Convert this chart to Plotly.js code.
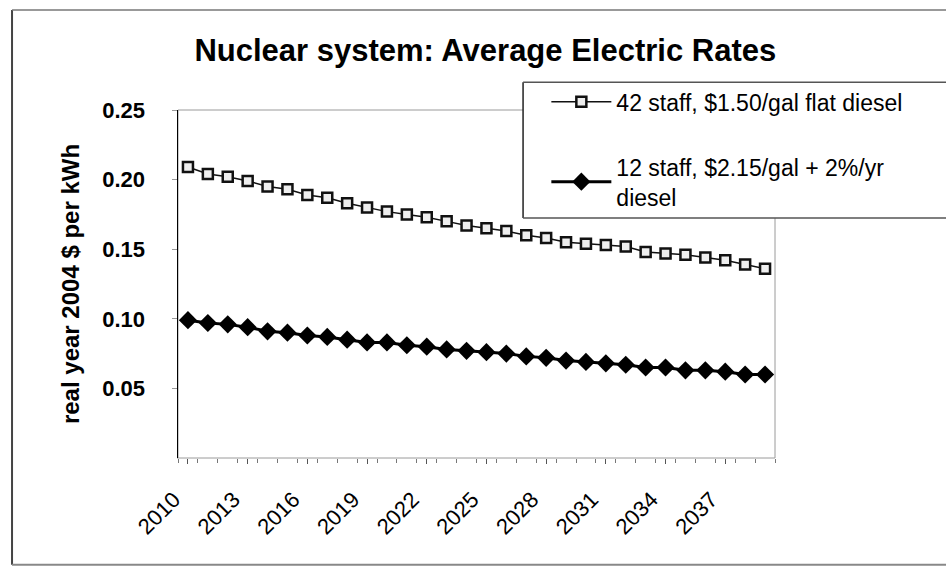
<!DOCTYPE html>
<html>
<head>
<meta charset="utf-8">
<script src="https://cdn.plot.ly/plotly-3.0.1.min.js"></script>
<style>
  html, body { margin: 0; padding: 0; background: #ffffff; overflow: hidden; }
  #chart { width: 946px; height: 568px; }
</style>
</head>
<body>
<div id="chart"></div>
<script>
// ---- data ----
const years = [2010, 2011, 2012, 2013, 2014, 2015, 2016, 2017, 2018, 2019,
               2020, 2021, 2022, 2023, 2024, 2025, 2026, 2027, 2028, 2029,
               2030, 2031, 2032, 2033, 2034, 2035, 2036, 2037, 2038, 2039];
const staff42Flat = [0.209, 0.204, 0.202, 0.199, 0.195, 0.193, 0.189, 0.187, 0.183, 0.180,
                     0.177, 0.175, 0.173, 0.170, 0.167, 0.165, 0.163, 0.160, 0.158, 0.155,
                     0.154, 0.153, 0.152, 0.148, 0.147, 0.146, 0.144, 0.142, 0.139, 0.136];
const staff12Escal = [0.099, 0.097, 0.096, 0.094, 0.091, 0.090, 0.088, 0.087, 0.085, 0.083,
                      0.083, 0.081, 0.080, 0.078, 0.077, 0.076, 0.075, 0.073, 0.072, 0.070,
                      0.069, 0.068, 0.067, 0.065, 0.065, 0.063, 0.063, 0.062, 0.060, 0.060];
const seriesNames = ["42 staff, $1.50/gal flat diesel",
                     "12 staff, $2.15/gal + 2%/yr<br>diesel"];
const yTickVals = [0.05, 0.10, 0.15, 0.20, 0.25];
const chartTitle = "Nuclear system: Average Electric Rates";
const yTitle = "real year 2004 $ per kWh";

const FONT = "Arial, 'Liberation Sans', Helvetica, sans-serif";

const traces = [
  {
    x: years, y: staff42Flat, name: seriesNames[0], type: "scatter", mode: "lines+markers",
    legendgroup: "a",
    line: { color: "#111111", width: 1.5 },
    marker: { symbol: "square", size: 10, color: "#eeeeee", line: { color: "#111111", width: 2.5 } }
  },
  {
    x: years, y: staff12Escal, name: seriesNames[1], type: "scatter", mode: "lines+markers",
    legendgroup: "b",
    line: { color: "#000000", width: 3 },
    marker: { symbol: "diamond", size: 14, color: "#000000", line: { color: "#000000", width: 0 } }
  }
];

function hline(y, x0, x1, color, w) {
  return { type: "line", xref: "paper", yref: "paper", x0: x0, x1: x1, y0: y, y1: y,
           line: { color: color, width: w }, layer: "above" };
}
function vline(x, y0, y1, color, w) {
  return { type: "line", xref: "paper", yref: "paper", x0: x, x1: x, y0: y0, y1: y1,
           line: { color: color, width: w }, layer: "above" };
}

const layout = {
  width: 946, height: 568,
  paper_bgcolor: "#ffffff", plot_bgcolor: "#ffffff",
  margin: { l: 178, r: 171, t: 110, b: 110 },
  font: { family: FONT, color: "#000000" },
  title: {
    text: "<b>" + chartTitle + "</b>",
    font: { family: FONT, size: 31, color: "#000000" },
    x: 0.513, xref: "container", xanchor: "center",
    y: 0.912, yref: "container", yanchor: "middle"
  },
  xaxis: {
    range: [2009.5, 2039.5],
    tickmode: "linear", tick0: 2010, dtick: 3,
    tickangle: -45,
    tickfont: { family: FONT, size: 22, color: "#000000" },
    ticks: "outside", ticklen: 5, tickcolor: "#555555", tickwidth: 1,
    ticklabelstandoff: 14,
    ticklabelshift: -14,
    minor: { dtick: 1, tick0: 2009.5, ticks: "outside", ticklen: 4, tickcolor: "#777777" },
    showgrid: false, zeroline: false,
    showline: true, linecolor: "#cccccc", linewidth: 1
  },
  yaxis: {
    range: [0, 0.25],
    tickvals: yTickVals,
    tickformat: ".2f",
    tickfont: { family: FONT, size: 22, color: "#000000", weight: "bold" },
    ticks: "outside", ticklen: 5, tickcolor: "#999999",
    ticklabelstandoff: 22,
    showgrid: false, zeroline: false,
    showline: true, linecolor: "#000000", linewidth: 1.5,
    title: {
      text: "<b>" + yTitle + "</b>",
      font: { family: FONT, size: 24, color: "#000000" },
      standoff: 16
    }
  },
  showlegend: true,
  legend: {
    x: 0.617, xanchor: "left", xref: "paper",
    y: 1.085, yanchor: "top", yref: "paper",
    bgcolor: "rgba(0,0,0,0)", borderwidth: 0,
    traceorder: "grouped", tracegroupgap: 32,
    itemwidth: 60,
    font: { family: FONT, size: 23, color: "#000000" }
  },
  shapes: [
    // plot-area frame (light grey top/right)
    { type: "rect", xref: "paper", yref: "paper", x0: 0, x1: 1, y0: 0, y1: 1,
      line: { color: "#9a9a9a", width: 1 }, layer: "below" },
    // legend box: white fill + left/top/bottom edges (runs off the right edge)
    { type: "rect", xref: "paper", yref: "paper", x0: 0.578, x1: 1.3, y0: 0.69, y1: 1.08,
      fillcolor: "#ffffff", line: { width: 0 }, layer: "above" },
    vline(0.578, 0.69, 1.08, "#222222", 1.5),
    hline(1.08, 0.578, 1.3, "#555555", 1.5),
    hline(0.69, 0.578, 1.3, "#555555", 1.5),
    // outer chart frame: left, top, bottom (open to the right)
    vline(-0.278, -0.307, 1.287, "#444444", 2),
    hline(1.287, -0.278, 1.3, "#777777", 1.5),
    hline(-0.307, -0.278, 1.3, "#888888", 2)
  ]
};

Plotly.newPlot("chart", traces, layout, { displayModeBar: false, staticPlot: true });
</script>
</body>
</html>
